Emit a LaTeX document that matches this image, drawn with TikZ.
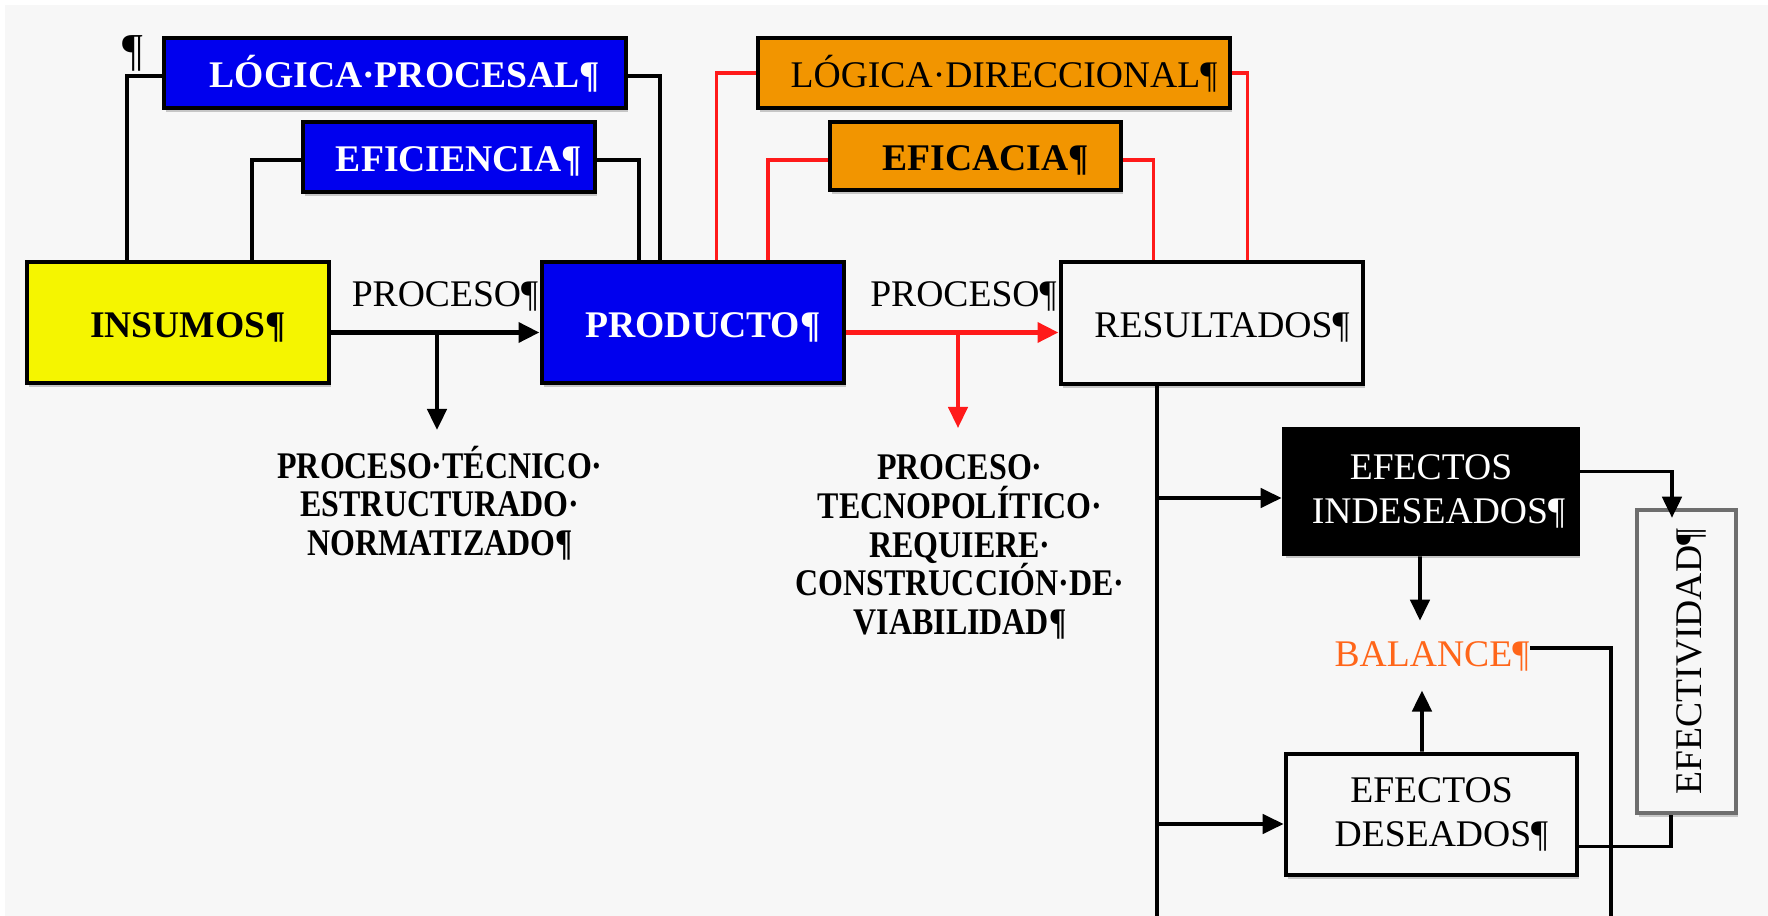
\documentclass[tikz,border=0pt]{standalone}
\usepackage{fontspec}
\setmainfont{Liberation Serif}
\newfontfamily\estrecha[FakeStretch=0.85]{Liberation Serif}
\usetikzlibrary{arrows.meta,shadows}
\definecolor{fondo}{HTML}{F7F7F7}
\definecolor{azul}{RGB}{0,0,238}
\definecolor{amarillo}{RGB}{245,245,0}
\definecolor{naranja}{RGB}{242,149,0}
\definecolor{rojo}{RGB}{255,26,26}
\definecolor{anaranjado}{RGB}{255,102,26}
\definecolor{gris}{RGB}{110,110,110}
\newcommand{\letra}{\fontsize{10.7}{12.5}\selectfont}
\newcommand{\sng}{\hspace*{0.2cm}}
\tikzset{
  caja/.style={draw=black,line width=1.3pt,inner sep=0pt,font=\letra,
    drop shadow={shadow xshift=0.02cm,shadow yshift=-0.04cm,fill=black!30,opacity=0.7}},
  una/.style={text height=8.4pt,text depth=0pt},
  texto/.style={inner sep=0pt,font=\letra},
  notas/.style={inner sep=0pt,align=center,font=\fontsize{10.7}{11}\selectfont\estrecha\bfseries},
  linea/.style={draw=black,line width=1.1pt},
  linearoja/.style={draw=rojo,line width=1pt},
  flecha/.style={linea,-{Triangle[length=6pt,width=5.5pt]}},
  flecharoja/.style={linearoja,-{Triangle[length=6pt,width=5.5pt]}}
}
\begin{document}
\begin{tikzpicture}[x=0.01cm,y=-0.01cm]
\fill[white] (0,0) rectangle (1768,916);
\fill[fondo] (5,5) rectangle (1768,916);
\useasboundingbox (0,0) rectangle (1768,916);
% cajas
\node[caja,una,fill=amarillo,minimum width=3.02cm,minimum height=1.21cm] (insumos) at (178,322.5) {\sng\bfseries INSUMOS¶};
\node[caja,una,fill=azul,text=white,minimum width=3.02cm,minimum height=1.21cm] (producto) at (693,322.5) {\sng\bfseries PRODUCTO¶};
\node[caja,una,fill=fondo,minimum width=3.02cm,minimum height=1.22cm] (resultados) at (1212,323) {\sng RESULTADOS¶};
\node[caja,una,fill=azul,text=white,minimum width=4.62cm,minimum height=0.7cm] (logproc) at (395,73) {\sng\bfseries LÓGICA·PROCESAL¶};
\node[caja,una,fill=azul,text=white,minimum width=2.92cm,minimum height=0.7cm] (eficiencia) at (449,157) {\sng\bfseries EFICIENCIA¶};
\node[caja,una,fill=naranja,minimum width=4.72cm,minimum height=0.7cm] (logdir) at (994,73) {\sng LÓGICA·DIRECCIONAL¶};
\node[caja,una,fill=naranja,minimum width=2.91cm,minimum height=0.68cm] (eficacia) at (975.5,156) {\sng\bfseries EFICACIA¶};
\node[caja,fill=black,text=white,align=center,minimum width=2.94cm,minimum height=1.25cm] (indeseados) at (1431,491.5) {EFECTOS\\\hspace*{0.15cm}INDESEADOS¶};
\node[caja,fill=fondo,align=center,minimum width=2.91cm,minimum height=1.21cm] (deseados) at (1431.5,814.5) {EFECTOS\\\hspace*{0.2cm}DESEADOS¶};
\node[caja,una,draw=gris,line width=1.2pt,fill=fondo,rotate=90,minimum width=3.03cm,minimum height=0.99cm] (efectividad) at (1686.5,661.5) {EFECTIVIDAD¶};
% textos
\node[texto,anchor=base,font=\fontsize{13}{13}\selectfont] (marca) at (133,66) {¶};
\node[texto,anchor=base] (proceso1) at (445,307) {PROCESO¶};
\node[texto,anchor=base] (proceso2) at (963.5,307) {PROCESO¶};
\node[texto,text=anaranjado,anchor=base,text height=0.7em,text depth=0.25em] (balance) at (1432,667) {BALANCE¶};
\node[notas] (tecnico) at (440,503) {PROCESO·TÉCNICO·\\ESTRUCTURADO·\\NORMATIZADO¶};
\node[notas] (tecnopol) at (960,547) {PROCESO·\\TECNOPOLÍTICO·\\REQUIERE·\\CONSTRUCCIÓN·DE·\\VIABILIDAD¶};
% conectores de arriba
\draw[linea] ([xshift=1.02cm]insumos.north west) |- ([yshift=-0.03cm]logproc.west);
\draw[linea] ([yshift=-0.03cm]logproc.east) -| ([xshift=1.2cm]producto.north west);
\draw[linea] ([xshift=2.27cm]insumos.north west) |- ([yshift=-0.03cm]eficiencia.west);
\draw[linea] ([yshift=-0.03cm]eficiencia.east) -| ([xshift=0.99cm]producto.north west);
\draw[linearoja] ([xshift=1.77cm]producto.north west) |- (logdir.west);
\draw[linearoja] (logdir.east) -| ([xshift=1.89cm]resultados.north west);
\draw[linearoja] ([xshift=2.28cm]producto.north west) |- ([yshift=-0.04cm]eficacia.west);
\draw[linearoja] ([yshift=-0.04cm]eficacia.east) -| ([xshift=0.95cm]resultados.north west);
% procesos
\coordinate (s1) at ([yshift=-0.1cm]insumos.east);
\coordinate (s2) at ([yshift=-0.1cm]producto.east);
\draw[flecha,line width=1.5pt] (s1) -- (s1 -| producto.west);
\draw[flecharoja,line width=1.6pt] (s2) -- (s2 -| resultados.west);
\coordinate (r1) at (437,332);
\coordinate (p1) at (437,430);
\coordinate (r2) at (958,332);
\coordinate (p2) at (958,428);
\draw[flecha] (r1) -- (p1);
\draw[flecharoja] (r2) -- (p2);
% efectos
\coordinate (fin1) at (1157,916);
\coordinate (fin2) at (1611,916);
\coordinate (e1) at (1157,498);
\coordinate (e2) at (1157,824);
\draw[linea] (fin1 |- resultados.south) -- (fin1);
\draw[flecha] (e1) -- (e1 -| indeseados.west);
\draw[flecha] (e2) -- (e2 -| deseados.west);
\draw[flecha] ([xshift=-0.11cm]indeseados.south) -- ([xshift=-0.12cm,yshift=0.21cm]balance.north);
\draw[flecha] ([xshift=-0.095cm]deseados.north) -- ([xshift=-0.1cm,yshift=-0.14cm]balance.south);
\draw[linea] ([yshift=0.11cm]balance.east) -| (fin2);
\draw[flecha] ([yshift=0.2cm]indeseados.east) -| ([xshift=-0.145cm,yshift=-0.1cm]efectividad.east);
\draw[linea] ([yshift=-0.32cm]deseados.east) -| ([xshift=-0.155cm]efectividad.west);
\end{tikzpicture}
\end{document}
